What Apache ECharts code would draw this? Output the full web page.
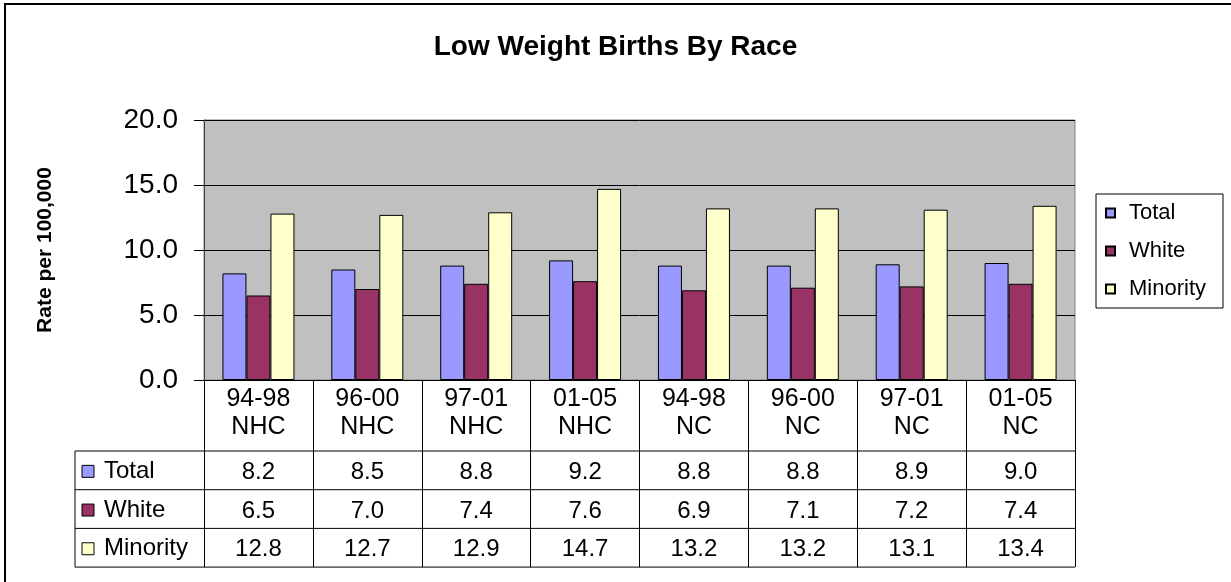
<!DOCTYPE html>
<html>
<head>
<meta charset="utf-8">
<script src="https://cdn.jsdelivr.net/npm/echarts@6/dist/echarts.min.js"></script>
<style>
html, body { margin: 0; padding: 0; background: #fff; }
#chart { width: 1231px; height: 582px; }
</style>
</head>
<body>
<div id="chart"></div>
<script>
// data
var categories = ['94-98\nNHC', '96-00\nNHC', '97-01\nNHC', '01-05\nNHC', '94-98\nNC', '96-00\nNC', '97-01\nNC', '01-05\nNC'];
var seriesNames = ['Total', 'White', 'Minority'];
var totalValues = [8.2, 8.5, 8.8, 9.2, 8.8, 8.8, 8.9, 9.0];
var whiteValues = [6.5, 7.0, 7.4, 7.6, 6.9, 7.1, 7.2, 7.4];
var minorityValues = [12.8, 12.7, 12.9, 14.7, 13.2, 13.2, 13.1, 13.4];

var colors = ['#9999FF', '#993366', '#FFFFCC'];
var font = 'Arial, "Liberation Sans", sans-serif';

// layout (grid + data table underneath)
var gridLeft = 204, gridTop = 120, gridRight = 1075, gridBottom = 380;
var tableLeft = 75, rowTop = 451, rowH = 38.7;
var allValues = [totalValues, whiteValues, minorityValues];

var chart = echarts.init(document.getElementById('chart'));

var graphic = [
    // chart frame (only left + top are visible in the picture)
    { type: 'polyline', shape: { points: [[5, 582], [5, 4], [1231, 4]] }, style: { stroke: '#000', lineWidth: 2, fill: null } }
];
// table horizontal rules
for (var r = 0; r <= 3; r++) {
    graphic.push({ type: 'line', shape: { x1: tableLeft, y1: rowTop + r * rowH, x2: gridRight, y2: rowTop + r * rowH }, style: { stroke: '#000', lineWidth: 1 } });
}
graphic.push({ type: 'line', shape: { x1: tableLeft, y1: rowTop, x2: tableLeft, y2: rowTop + 3 * rowH }, style: { stroke: '#000', lineWidth: 1 } });
// row headers (legend keys)
for (var k = 0; k < seriesNames.length; k++) {
    var cy = rowTop + (k + 0.5) * rowH;
    graphic.push({ type: 'rect', shape: { x: 82, y: cy - 5, width: 12, height: 12 }, style: { fill: colors[k], stroke: '#000', lineWidth: 1 } });
    graphic.push({ type: 'text', x: 104, y: cy + 1, style: { text: seriesNames[k], font: '24px ' + font, fill: '#000', verticalAlign: 'middle', align: 'left' } });
}

var option = {
    animation: false,
    backgroundColor: '#fff',
    title: {
        text: 'Low Weight Births By Race',
        left: 'center',
        top: 28,
        textStyle: { fontFamily: font, fontSize: 28, fontWeight: 'bold', color: '#000' }
    },
    legend: {
        orient: 'vertical',
        left: 1096,
        top: 194,
        padding: [8, 17, 8, 9],
        itemGap: 16,
        itemWidth: 9,
        itemHeight: 9,
        icon: 'rect',
        borderColor: '#000',
        borderWidth: 1,
        textStyle: { fontFamily: font, fontSize: 22, color: '#000', padding: [0, 0, 0, 9] },
        data: seriesNames
    },
    grid: {
        left: gridLeft,
        top: gridTop,
        width: gridRight - gridLeft,
        height: gridBottom - gridTop,
        show: true,
        backgroundColor: '#C0C0C0',
        borderColor: '#808080',
        borderWidth: 1
    },
    xAxis: {
        type: 'category',
        data: categories,
        axisLine: { lineStyle: { color: '#000', width: 1 } },
        axisTick: { show: true, interval: 0, length: rowTop + 3 * rowH - gridBottom, lineStyle: { color: '#000', width: 1 } },
        axisLabel: {
            interval: 0,
            margin: 5,
            color: '#000',
            fontFamily: font,
            formatter: function (value, idx) {
                var parts = value.split('\n');
                var s = '{c|' + parts[0] + '}\n{c|' + parts[1] + '}\n{s| }';
                for (var j = 0; j < allValues.length; j++) {
                    s += '\n{v|' + allValues[j][idx].toFixed(1) + '}';
                }
                return s;
            },
            rich: {
                c: { fontFamily: font, fontSize: 25, lineHeight: 28, color: '#000' },
                s: { fontSize: 4, lineHeight: 12 },
                v: { fontFamily: font, fontSize: 24, lineHeight: rowH, color: '#000' }
            }
        },
        splitLine: { show: false }
    },
    yAxis: {
        type: 'value',
        min: 0,
        max: 20,
        interval: 5,
        name: 'Rate per 100,000',
        nameLocation: 'middle',
        nameRotate: 90,
        nameGap: 148,
        nameTextStyle: { fontFamily: font, fontSize: 21, fontWeight: 'bold', color: '#000' },
        axisLine: { show: true, lineStyle: { color: '#404040', width: 1 } },
        axisTick: { show: true, length: 10, lineStyle: { color: '#000' } },
        axisLabel: {
            margin: 26,
            color: '#000',
            fontFamily: font,
            fontSize: 28,
            formatter: function (v) { return v.toFixed(1); }
        },
        splitLine: { show: true, lineStyle: { color: '#000', width: 1 } }
    },
    series: seriesNames.map(function (name, i) {
        return {
            name: name,
            type: 'bar',
            data: allValues[i],
            barWidth: 24,
            barGap: '0%',
            itemStyle: { color: colors[i], borderColor: '#000', borderWidth: 1 }
        };
    }),
    graphic: graphic
};

chart.setOption(option);
</script>
</body>
</html>
